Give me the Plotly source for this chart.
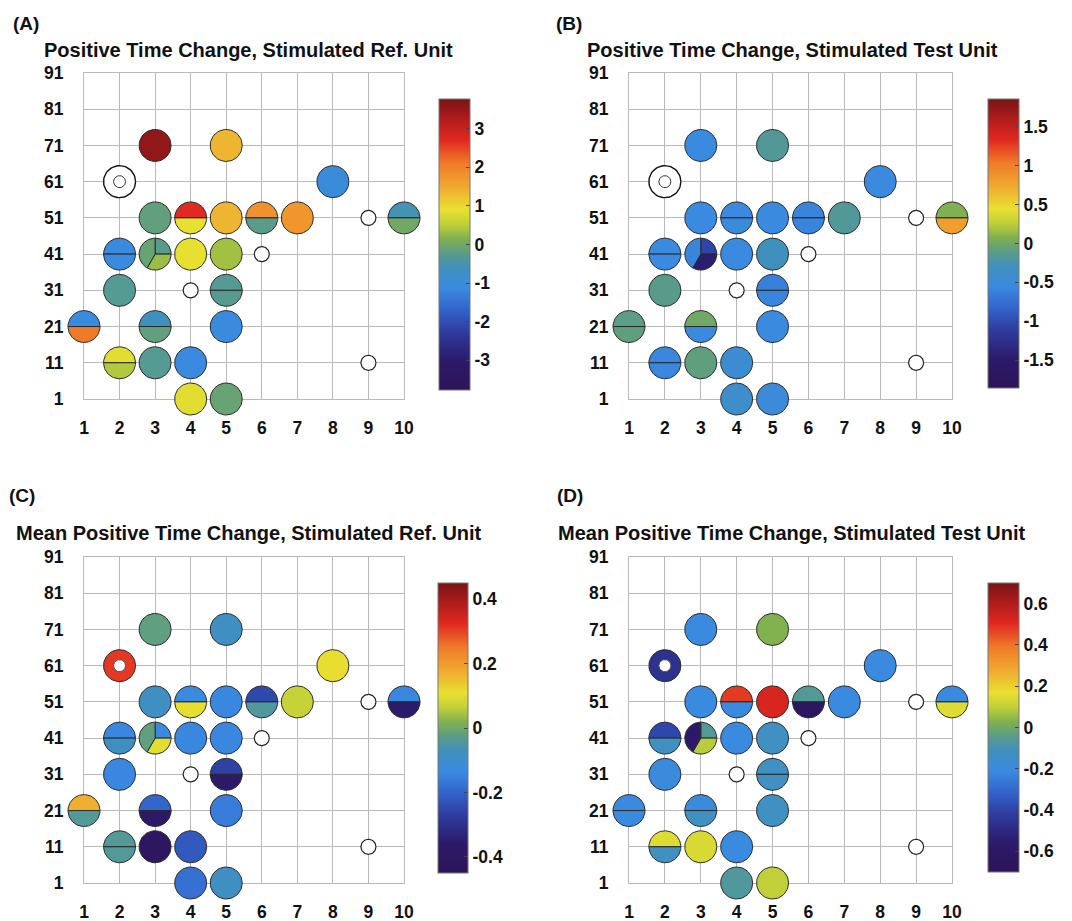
import numpy as np
import plotly.graph_objects as go
from plotly.colors import sample_colorscale

W, H = 1072, 921
FONT = "Liberation Sans, Arial, sans-serif"

# ---------------- data ----------------
x_ticks = list(range(1, 11))
y_ticks = list(range(1, 92, 10))

# common site positions (each site: list of segment values)
# 1 value = full disc, 2 values = [top, bottom], 3 values = [top-right, bottom, left]
site_x = [3, 5, 8, 3, 4, 5, 6, 7, 10, 2, 3, 4, 5, 2, 5, 1, 3, 5, 2, 3, 4, 4, 5]
site_y = [71, 71, 61, 51, 51, 51, 51, 51, 51, 41, 41, 41, 41, 31, 31, 21, 21, 21, 11, 11, 11, 1, 1]

A_vals = [[3.54], [1.36], [-1.06], [-0.15], [2.71, 0.9], [1.36], [1.81, -0.23], [1.75], [-0.53, 0.0],
          [-1.13, -1.1], [-0.25, 0.3, -0.1], [0.9], [0.35], [-0.3], [-0.3, -0.28], [-1.1, 2.1],
          [-0.6, -0.15], [-1.1], [0.85, 0.45], [-0.3], [-1.13], [0.85], [-0.1]]
B_vals = [[-0.56], [-0.17], [-0.56], [-0.56], [-0.56, -0.52], [-0.56], [-0.6, -0.6], [-0.17], [0.07, 0.8],
          [-0.56, -0.56], [-1.05, -1.45, -0.6], [-0.56], [-0.3], [-0.12], [-0.62, -0.6], [-0.1, -0.08],
          [0.0, -0.56], [-0.55], [-0.58, -0.58], [-0.08], [-0.45], [-0.4], [-0.5]]
C_vals = [[-0.02], [-0.08], [0.11], [-0.08], [-0.135, 0.11], [-0.14], [-0.25, -0.045], [0.07], [-0.14, -0.36],
          [-0.14, -0.08], [-0.13, 0.1, -0.02], [-0.14], [-0.14], [-0.14], [-0.26, -0.37], [0.17, -0.04],
          [-0.2, -0.37], [-0.16], [-0.04, -0.04], [-0.41], [-0.22], [-0.18], [-0.08]]
D_vals = [[-0.21], [0.03], [-0.21], [-0.21], [0.48, -0.21], [0.52], [-0.06, -0.62], [-0.21], [-0.21, 0.15],
          [-0.39, -0.12], [-0.06, 0.09, -0.58], [-0.21], [-0.12], [-0.2], [-0.12, -0.12], [-0.21, -0.21],
          [-0.2, -0.12], [-0.12], [0.15, -0.12], [0.14], [-0.21], [-0.07], [0.1]]

# ring site (stimulated unit) and its value per panel (None = white)
ring_x, ring_y = 2, 61
ring_vals = [None, None, 0.31, -0.46]

# empty (no-data) sites
empty_x = [9, 6, 4, 9]
empty_y = [51, 41, 31, 11]

panel_letters = ["(A)", "(B)", "(C)", "(D)"]
panel_titles = ["Positive Time Change, Stimulated Ref. Unit",
                "Positive Time Change, Stimulated Test Unit",
                "Mean Positive Time Change, Stimulated Ref. Unit",
                "Mean Positive Time Change, Stimulated Test Unit"]
cb_range = [3.77, 1.86, 0.45, 0.70]
cb_tickvals = [[-3, -2, -1, 0, 1, 2, 3],
               [-1.5, -1, -0.5, 0, 0.5, 1, 1.5],
               [-0.4, -0.2, 0, 0.2, 0.4],
               [-0.6, -0.4, -0.2, 0, 0.2, 0.4, 0.6]]
cb_ticktext = [["-3", "-2", "-1", "0", "1", "2", "3"],
               ["-1.5", "-1", "-0.5", "0", "0.5", "1", "1.5"],
               ["-0.4", "-0.2", "0", "0.2", "0.4"],
               ["-0.6", "-0.4", "-0.2", "0", "0.2", "0.4", "0.6"]]
all_vals = [A_vals, B_vals, C_vals, D_vals]

colorscale = [
    [0.00, "rgb(44,20,88)"],
    [0.10, "rgb(44,26,106)"],
    [0.20, "rgb(46,60,158)"],
    [0.28, "rgb(51,102,204)"],
    [0.35, "rgb(58,138,224)"],
    [0.42, "rgb(64,144,190)"],
    [0.47, "rgb(90,156,136)"],
    [0.52, "rgb(128,176,80)"],
    [0.57, "rgb(192,208,56)"],
    [0.62, "rgb(232,224,48)"],
    [0.70, "rgb(240,168,48)"],
    [0.78, "rgb(239,122,40)"],
    [0.86, "rgb(224,40,32)"],
    [0.93, "rgb(176,28,28)"],
    [1.00, "rgb(122,20,20)"],
]

# ---------------- layout geometry (pixels) ----------------
boxes = [(84, 404, 73, 399), (629, 952, 73, 399), (84, 404, 557, 883), (629, 952, 557, 883)]
cbars = [(439, 470, 99, 390), (988, 1019, 99, 388), (438, 468, 583, 873), (988, 1019, 583, 872)]
letter_pos = [(11, 23), (554, 23), (7, 495), (555, 495)]
title_pos = [(42, 50), (585, 50), (14, 533), (556, 533)]

R_BIG, R_SMALL, R_INNER = 16.0, 7.5, 6.0
PAD = 28  # extra pixels for un-clipped data axes
GRID = "#b9b9b9"

fig = go.Figure()


def color_of(v, rng):
    t = (v + rng) / (2 * rng)
    t = min(max(t, 0.0), 1.0)
    return sample_colorscale(colorscale, [t])[0]


def arc(cx, cy, rx, ry, a0, a1, n=60):
    a = np.radians(np.linspace(a0, a1, n))
    return cx + rx * np.cos(a), cy + ry * np.sin(a)


def ax_id(i):
    return "" if i == 1 else str(i)


layout = {}
annotations = []
tick_font = dict(size=17.5, family=FONT, color="#111", weight="bold")

# grid subplots first (so they lie beneath the discs)
for p in range(4):
    xl, xr, yt, yb = boxes[p]
    gi = p + 1
    layout[f"xaxis{ax_id(gi)}"] = dict(domain=[xl / W, xr / W], range=[x_ticks[0], x_ticks[-1]],
                                       anchor=f"y{ax_id(gi)}", tickvals=x_ticks, showgrid=True,
                                       gridcolor=GRID, gridwidth=1, showline=True, linecolor=GRID,
                                       mirror=True, zeroline=False, ticks="", ticklabelstandoff=13,
                                       tickfont=tick_font, fixedrange=True, automargin=False)
    layout[f"yaxis{ax_id(gi)}"] = dict(domain=[1 - yb / H, 1 - yt / H], range=[y_ticks[0], y_ticks[-1]],
                                       anchor=f"x{ax_id(gi)}", tickvals=y_ticks, showgrid=True,
                                       gridcolor=GRID, gridwidth=1, showline=True, linecolor=GRID,
                                       mirror=True, zeroline=False, ticks="", ticklabelstandoff=16,
                                       tickfont=tick_font, fixedrange=True, automargin=False)
    fig.add_trace(go.Scatter(x=site_x, y=site_y, mode="markers", marker=dict(size=1, opacity=0),
                             xaxis=f"x{ax_id(gi)}", yaxis=f"y{ax_id(gi)}", hoverinfo="skip", showlegend=False))

for p in range(4):
    xl, xr, yt, yb = boxes[p]
    ppx = (xr - xl) / (x_ticks[-1] - x_ticks[0])
    ppy = (yb - yt) / (y_ticks[-1] - y_ticks[0])
    di = p + 5
    dx = PAD / ppx
    dy = PAD / ppy
    layout[f"xaxis{di}"] = dict(domain=[(xl - PAD) / W, (xr + PAD) / W],
                                range=[x_ticks[0] - dx, x_ticks[-1] + dx], anchor=f"y{di}", visible=False,
                                fixedrange=True, automargin=False)
    layout[f"yaxis{di}"] = dict(domain=[1 - (yb + PAD) / H, 1 - (yt - PAD) / H],
                                range=[y_ticks[0] - dy, y_ticks[-1] + dy], anchor=f"x{di}", visible=False,
                                fixedrange=True, automargin=False)
    xa, ya = f"x{di}", f"y{di}"
    rng = cb_range[p]

    def add_poly(px, py, fill, lw=1.0, lc="#2a2a2a"):
        fig.add_trace(go.Scatter(x=px, y=py, mode="lines", fill="toself", fillcolor=fill,
                                 line=dict(color=lc, width=lw), xaxis=xa, yaxis=ya,
                                 hoverinfo="skip", showlegend=False))

    rxb, ryb = R_BIG / ppx, R_BIG / ppy
    for cx, cy, vals in zip(site_x, site_y, all_vals[p]):
        if len(vals) == 1:
            px, py = arc(cx, cy, rxb, ryb, 0, 360)
            add_poly(px, py, color_of(vals[0], rng))
        elif len(vals) == 2:
            for v, (a0, a1) in zip(vals, [(0, 180), (180, 360)]):
                ax_, ay_ = arc(cx, cy, rxb, ryb, a0, a1)
                add_poly(np.r_[cx, ax_, cx], np.r_[cy, ay_, cy], color_of(v, rng))
        else:
            for v, (a0, a1) in zip(vals, [(90, 0), (0, -120), (-120, -270)]):
                ax_, ay_ = arc(cx, cy, rxb, ryb, a0, a1)
                add_poly(np.r_[cx, ax_, cx], np.r_[cy, ay_, cy], color_of(v, rng))

    # ring site
    rv = ring_vals[p]
    px, py = arc(ring_x, ring_y, rxb, ryb, 0, 360)
    if rv is None:
        add_poly(px, py, "white", lw=1.4, lc="#111")
        px, py = arc(ring_x, ring_y, R_INNER / ppx, R_INNER / ppy, 0, 360)
        add_poly(px, py, "white", lw=1.0, lc="#333")
    else:
        add_poly(px, py, color_of(rv, rng))
        px, py = arc(ring_x, ring_y, R_INNER / ppx, R_INNER / ppy, 0, 360)
        add_poly(px, py, "white", lw=1.0, lc="#555")

    # empty sites
    for cx, cy in zip(empty_x, empty_y):
        px, py = arc(cx, cy, R_SMALL / ppx, R_SMALL / ppy, 0, 360)
        add_poly(px, py, "white", lw=1.2, lc="#222")

    # colorbar carrier (invisible markers at site centres)
    caname = "coloraxis" if p == 0 else f"coloraxis{p + 1}"
    fig.add_trace(go.Scatter(x=site_x, y=site_y, mode="markers",
                             marker=dict(size=1, opacity=0, color=[v[0] for v in all_vals[p]],
                                         coloraxis=caname),
                             xaxis=xa, yaxis=ya, hoverinfo="skip", showlegend=False))
    cxl, cxr, cyt, cyb = cbars[p]
    layout[caname] = dict(colorscale=colorscale, cmin=-rng, cmax=rng,
                          colorbar=dict(x=cxl / W, xanchor="left", y=1 - (cyt + cyb) / 2 / H, yanchor="middle",
                                        len=cyb - cyt, lenmode="pixels", thickness=cxr - cxl,
                                        thicknessmode="pixels", xpad=0, ypad=0, outlinewidth=1,
                                        outlinecolor="#777", tickvals=cb_tickvals[p], ticktext=cb_ticktext[p],
                                        ticks="inside", ticklen=4, tickcolor="#444",
                                        tickfont=tick_font))

    lx, ly = letter_pos[p]
    annotations.append(dict(text=f"<b>{panel_letters[p]}</b>", x=lx / W, y=1 - ly / H, xref="paper", yref="paper",
                            xanchor="left", yanchor="middle", showarrow=False,
                            font=dict(size=19, family=FONT, color="#111")))
    tx, ty = title_pos[p]
    annotations.append(dict(text=f"<b>{panel_titles[p]}</b>", x=tx / W, y=1 - ty / H, xref="paper", yref="paper",
                            xanchor="left", yanchor="middle", showarrow=False,
                            font=dict(size=20, family=FONT, color="#111")))

fig.update_layout(width=W, height=H, margin=dict(l=0, r=0, t=0, b=0, autoexpand=False),
                  paper_bgcolor="white", plot_bgcolor="rgba(0,0,0,0)",
                  annotations=annotations, showlegend=False, **layout)

fig.write_html("out.html")
